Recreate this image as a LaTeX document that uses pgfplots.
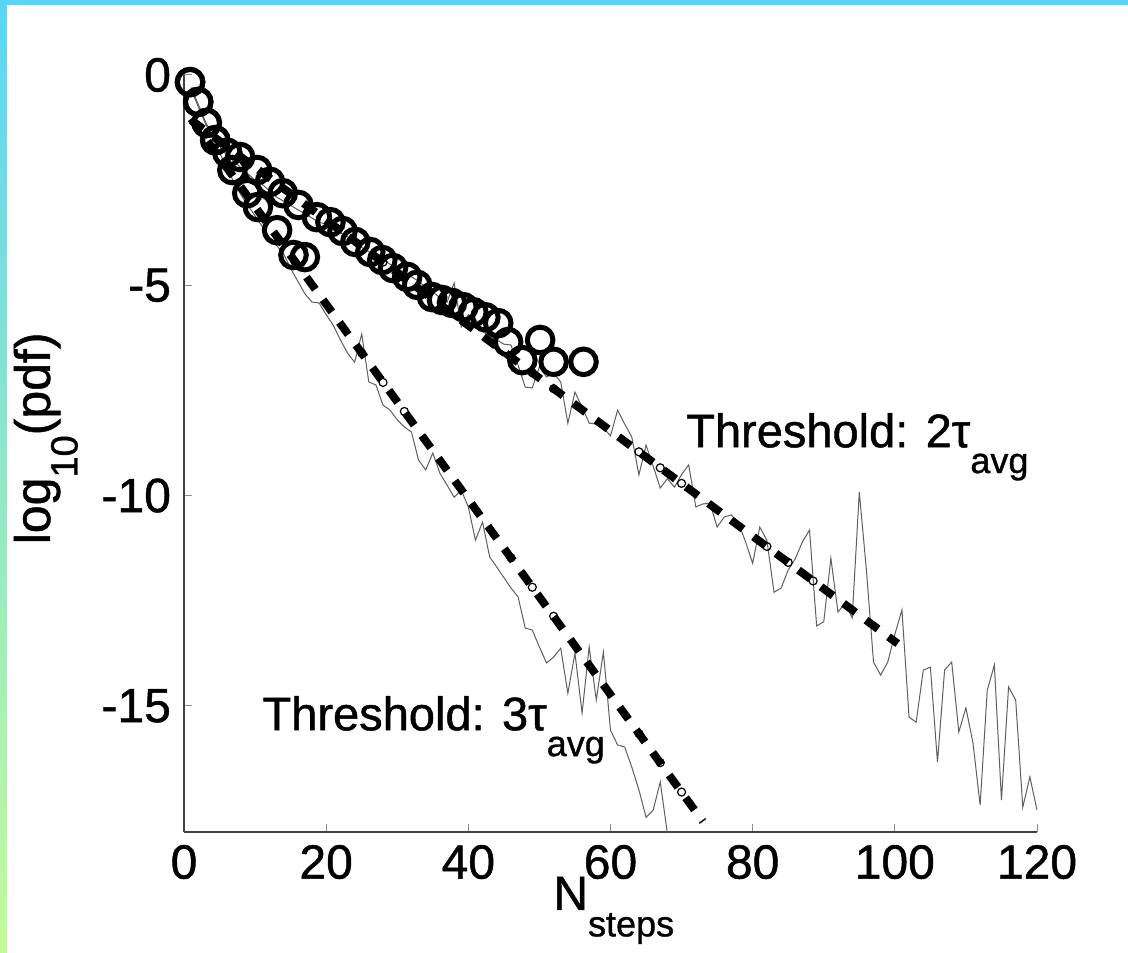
\documentclass[border=0pt]{standalone}
\usepackage{pgfplots}
\pgfplotsset{compat=1.18}
\usepackage{pgfplotstable}
\usepackage{fontspec}
\setmainfont{Liberation Sans}[FakeBold=1]
\definecolor{bandcyan}{RGB}{91,213,245}
\definecolor{bandgreen}{RGB}{196,250,155}
\definecolor{rawgray}{RGB}{95,95,95}
\newcommand{\lowsub}[1]{\raisebox{-0.55em}{\fontsize{18}{18}\selectfont #1}}

% raw pdf, threshold 2 tau_avg
\pgfplotstableread{
x y
1 -0.3
2 -0.7
3 -1.1
4 -1.45
5 -1.7
6 -1.9
7 -2.05
8 -2.2
9 -2.35
10 -2.5
11 -2.6
12 -2.75
13 -2.9
14 -3.0
15 -3.1
16 -3.2
17 -3.3
18 -3.4
19 -3.5
20 -3.55
21 -3.65
22 -3.75
23 -3.85
24 -3.95
25 -4.1
26 -4.2
27 -4.3
28 -4.4
29 -4.5
30 -4.6
31 -4.7
32 -4.8
33 -4.9
34 -5.05
35 -5.15
36 -5.3
37 -5.4
38 -4.95
39 -5.99
40 -5.7
41 -5.8
42 -6.1
43 -6.2
44 -6.3
45 -6.4
46 -6.42
47 -6.9
48 -7.42
49 -7.44
50 -6.94
51 -7.18
52 -7.09
53 -7.3
54 -8.28
55 -7.54
56 -7.9
57 -8.28
58 -8.3
59 -8.39
60 -8.58
61 -7.97
62 -8.3
63 -8.61
64 -9.51
65 -8.80
66 -9.3
67 -9.82
68 -9.6
69 -9.80
70 -9.5
71 -9.27
72 -10.27
73 -10.2
74 -10.18
75 -10.75
76 -10.51
77 -10.46
78 -10.65
79 -11.1
80 -11.61
81 -10.75
82 -11.06
83 -12.3
84 -12.2
85 -11.77
86 -11.5
87 -11.1
88 -10.82
89 -13.1
90 -13.0
91 -11.49
92 -12.77
93 -12.56
94 -12.91
95 -9.92
96 -11.77
97 -13.96
98 -14.27
99 -13.96
100 -13.3
101 -12.72
102 -15.27
103 -15.39
104 -14.15
105 -14.08
106 -16.34
107 -14.15
108 -13.96
109 -15.62
110 -15.05
111 -15.89
112 -17.36
113 -14.63
114 -14.03
115 -17.24
116 -14.55
117 -14.86
118 -17.41
119 -16.69
120 -17.48
}\rawtwo

% raw pdf, threshold 3 tau_avg
\pgfplotstableread{
x y
1 -0.35
2 -0.75
3 -1.15
4 -1.5
5 -1.85
6 -2.2
7 -2.55
8 -2.85
9 -3.1
10 -3.35
11 -3.6
12 -3.85
13 -4.05
14 -4.25
15 -4.6
16 -4.9
17 -5.2
18 -5.40
19 -5.42
20 -5.7
21 -5.95
22 -6.3
23 -6.61
24 -6.83
25 -6.16
26 -7.3
27 -7.37
28 -7.85
29 -7.97
30 -8.2
31 -8.37
32 -8.49
33 -9.16
34 -9.39
35 -8.99
36 -9.47
37 -9.75
38 -10.04
39 -9.87
40 -10.27
41 -11.06
42 -10.63
43 -11.46
44 -11.7
45 -11.95
46 -12.2
47 -12.41
48 -13.15
49 -13.20
50 -13.6
51 -13.98
52 -13.84
53 -13.63
54 -14.70
55 -13.75
56 -15.17
57 -13.60
58 -14.86
59 -13.72
60 -15.58
61 -15.93
62 -15.98
63 -16.46
64 -17.0
65 -17.65
66 -17.48
67 -16.81
68 -18.03
}\rawthree

\begin{document}
\begin{tikzpicture}
\useasboundingbox (-92pt,-60pt) rectangle (472pt,416pt);
\fill[white] (-92pt,-60pt) rectangle (472pt,416pt);
\fill[bandcyan] (-92pt,413.5pt) rectangle (472pt,416pt);
\shade[top color=bandcyan,bottom color=bandgreen] (-92pt,-60pt) rectangle (-88.5pt,416pt);
\begin{axis}[at={(0,0)},anchor=south west,scale only axis,
  width=426.5pt,height=378.5pt,
  xmin=0,xmax=120,ymin=-18,ymax=0,
  axis x line*=bottom,axis y line*=left,
  axis line style={black!75,line width=0.6pt},
  xtick={0,20,40,60,80,100,120},xticklabels={0,20,40,60,80,100,120},
  ytick={-15,-10,-5,0},yticklabels={-15,-10,-5,0},
  tick align=inside,major tick length=4pt,
  tick style={black!45,line width=0.5pt},
  tick label style={font=\fontsize{24}{24}\selectfont},
  xticklabel style={yshift=-3pt},
  yticklabel style={xshift=-3pt},
  xlabel={N\lowsub{steps}},
  xlabel style={at={(axis description cs:0.4326,-0.103)},anchor=base west,inner sep=0pt,font=\fontsize{24}{24}\selectfont},
  ylabel={log\raisebox{-0.55em}{\fontsize{19}{19}\selectfont 10}(pdf)},
  ylabel style={at={(axis description cs:-0.162,0.52)},anchor=center,font=\fontsize{25}{25}\selectfont},
]
\addplot[rawgray,line width=0.5pt] table[x=x,y=y]{\rawtwo};
\addplot[rawgray,line width=0.5pt] table[x=x,y=y]{\rawthree};
% fitted exponentials
\addplot[black,line width=4pt,dash pattern=on 7.5pt off 6.5pt] coordinates {(1,-1.07) (100.4,-13.52)};
\addplot[black,line width=4pt,dash pattern=on 7.5pt off 6.5pt] coordinates {(1,-1.04) (73,-17.75)};
\addplot[only marks,mark=o,mark size=2pt,mark options={fill=white,draw=black,line width=0.6pt}] coordinates {
(28,-4.45) (31,-4.82) (34,-5.20) (46,-6.70) (49,-7.08) (52,-7.46)
(64,-8.96) (67,-9.34) (70,-9.71) (82,-11.21) (85,-11.59) (88.5,-12.03)};
\addplot[only marks,mark=o,mark size=2pt,mark options={fill=white,draw=black,line width=0.6pt}] coordinates {
(25,-6.61) (28,-7.31) (31,-8.00) (46,-11.48) (49,-12.18) (52,-12.87)
(64,-15.66) (67,-16.35) (70,-17.05)};
% simulated points
\addplot[only marks,mark=o,mark size=6.4pt,mark options={line width=2.5pt,draw=black}] coordinates {
(0.85,-0.17) (2.0,-0.64) (3.2,-1.14) (4.4,-1.55) (6.1,-1.85) (7.9,-1.95)
(10.3,-2.26) (12.1,-2.54) (13.9,-2.81) (16.1,-3.09) (18.7,-3.38) (20.6,-3.50)
(22.3,-3.71) (24.1,-3.97) (26.2,-4.21) (27.9,-4.40) (29.4,-4.59) (31.4,-4.80)
(32.8,-4.99) (34.9,-5.28) (36.3,-5.35) (37.7,-5.42) (39.3,-5.52) (40.7,-5.64)
(42.4,-5.76) (44.2,-5.90) (45.6,-6.35) (47.6,-6.78) (50.1,-6.30) (52.0,-6.82)
(56.2,-6.82)};
\addplot[only marks,mark=o,mark size=6.4pt,mark options={line width=2.5pt,draw=black}] coordinates {
(0.85,-0.17) (2.0,-0.64) (3.2,-1.14) (4.4,-1.55) (6.8,-2.26) (8.9,-2.81)
(10.4,-3.14) (13.1,-3.69) (15.4,-4.28) (17.0,-4.33)};
\node[anchor=base west,font=\fontsize{23.5}{23.5}\selectfont,inner sep=0pt] at (axis cs:70.6,-8.85) {Threshold: 2τ\lowsub{avg}};
\node[anchor=base west,font=\fontsize{23.5}{23.5}\selectfont,inner sep=0pt] at (axis cs:11.0,-15.58) {Threshold: 3τ\lowsub{avg}};
\end{axis}
\end{tikzpicture}
\end{document}
